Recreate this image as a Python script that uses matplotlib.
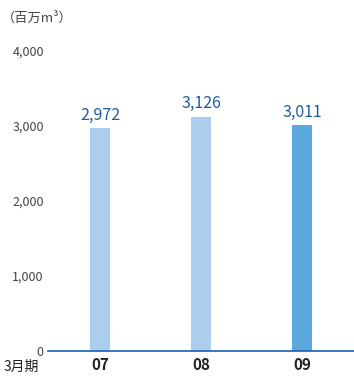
import matplotlib
matplotlib.use("Agg")
import matplotlib.pyplot as plt

plt.rcParams['font.family'] = ['Noto Sans CJK JP', 'DejaVu Sans']

categories = ["07", "08", "09"]
values = [2972, 3126, 3011]
value_labels = ["2,972", "3,126", "3,011"]
colors = ["#abcdee", "#abcdee", "#5aa8de"]
yticks = [0, 1000, 2000, 3000, 4000]
ytick_labels = ["0", "1,000", "2,000", "3,000", "4,000"]

fig = plt.figure(figsize=(3.54, 3.76), dpi=100)
ax = fig.add_axes([48/354, 25/376, 306/354, 300/376])

x = list(range(len(categories)))
ax.bar(x, values, width=0.2, color=colors, zorder=2)
for xi, v, lab in zip(x, values, value_labels):
    ax.text(xi, v + 60, lab, ha="center", va="bottom", fontsize=11.5, color="#1f5ba6")

ax.set_xlim(-0.515, 2.515)
ax.set_ylim(0, 4000)
for s in ["top", "right", "left"]:
    ax.spines[s].set_visible(False)
ax.spines["bottom"].set_color("#1a5fb4")
ax.spines["bottom"].set_linewidth(1.2)
ax.set_yticks(yticks)
ax.set_yticklabels(ytick_labels, fontsize=9, color="#444444")
ax.tick_params(axis="y", length=0, pad=3)
ax.set_xticks(x)
ax.set_xticklabels(categories, fontsize=11, color="#222222", fontweight="bold")
ax.tick_params(axis="x", length=0, pad=4)

fig.text(2/354, 1 - 18/376, "（百万m³）", fontsize=9.5, color="#444444", ha="left", va="center")
fig.text(4/354, 1 - 367/376, "3月期", fontsize=10, color="#222222", ha="left", va="center")

fig.savefig("out.png", dpi=100)
